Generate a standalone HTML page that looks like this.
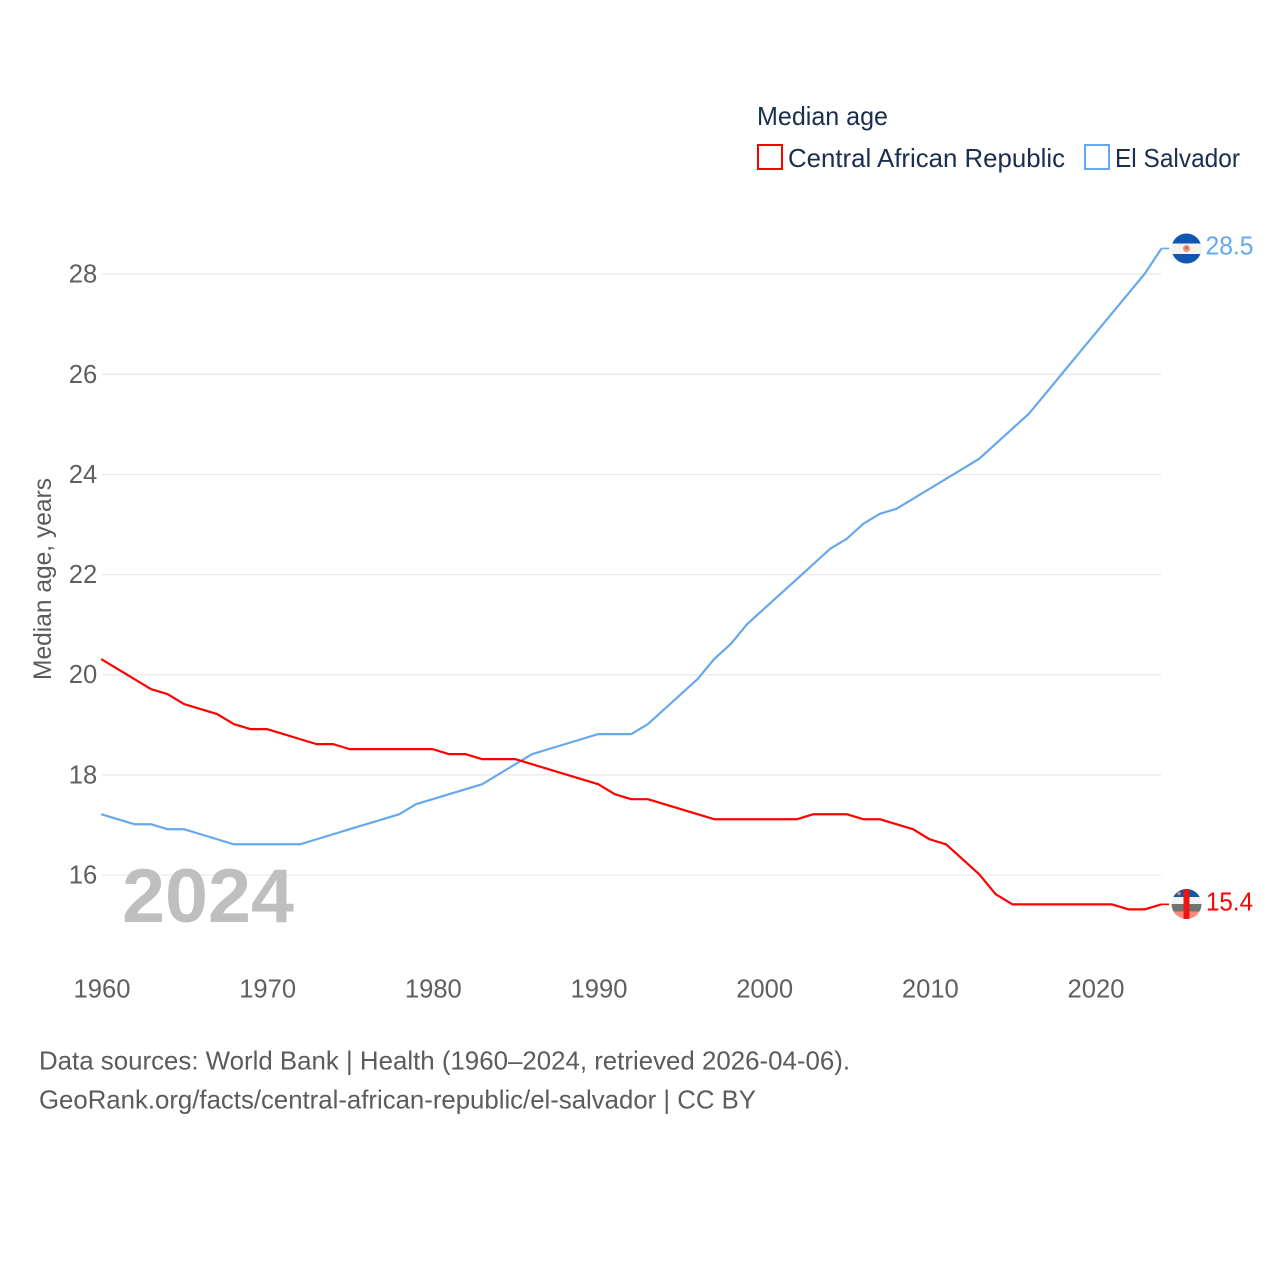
<!DOCTYPE html>
<html lang="en">
<head>
<meta charset="utf-8">
<title>Median age</title>
<style>
html,body{margin:0;padding:0;background:#fff;}
svg{display:block;font-family:"Liberation Sans",sans-serif;}
</style>
</head>
<body>
<svg id="chart" width="1280" height="1280" viewBox="0 0 1280 1280" xmlns="http://www.w3.org/2000/svg">
  <rect width="1280" height="1280" fill="#fff"/>
  <defs>
    <clipPath id="flag-clip-es"><circle cx="1186.5" cy="248.5" r="15"/></clipPath>
    <clipPath id="flag-clip-car"><circle cx="1186.5" cy="904" r="15"/></clipPath>
  </defs>

  <g id="grid"></g>
  <g id="yticks"></g>
  <g id="xticks"></g>

  <text transform="translate(51 680) rotate(-90)" font-size="25" fill="#5b5b5b" textLength="202" lengthAdjust="spacingAndGlyphs">Median age, years</text>

  <text x="122" y="922" font-size="76" font-weight="700" fill="#bfbfbf" textLength="172" lengthAdjust="spacingAndGlyphs">2024</text>

  <g id="series" transform="translate(-0.8 -0.7)"></g>

  <g>
    <text x="757" y="125" font-size="26" fill="#1a2e4f" textLength="131" lengthAdjust="spacingAndGlyphs">Median age</text>
    <g>
      <rect x="758" y="145" width="24" height="24" fill="#fff" stroke="#ff0000" stroke-width="2"/>
      <text x="788" y="167" font-size="26" fill="#1a2e4f" textLength="277" lengthAdjust="spacingAndGlyphs">Central African Republic</text>
    </g>
    <g>
      <rect x="1085" y="145" width="24" height="24" fill="#fff" stroke="#66a8ee" stroke-width="2"/>
      <text x="1115" y="167" font-size="26" fill="#1a2e4f" textLength="125" lengthAdjust="spacingAndGlyphs">El Salvador</text>
    </g>
  </g>

  <g clip-path="url(#flag-clip-es)">
    <rect x="1171" y="233" width="31" height="31" fill="#f2f2f2"/>
    <rect x="1171" y="233" width="31" height="10.5" fill="#0f56b0"/>
    <rect x="1171" y="254" width="31" height="10.5" fill="#0f56b0"/>
    <circle cx="1186.5" cy="248.5" r="3.5" fill="#f08f7f"/>
    <circle cx="1186.5" cy="248" r="1.2" fill="#8a6a60"/>
  </g>
  <text id="label-es" x="1205.5" y="254.5" font-size="26" fill="#66a8ee" textLength="48" lengthAdjust="spacingAndGlyphs"></text>

  <g clip-path="url(#flag-clip-car)">
    <rect x="1171" y="889" width="31" height="8" fill="#1257a8"/>
    <rect x="1171" y="897" width="31" height="7" fill="#f2f2f2"/>
    <rect x="1171" y="904" width="31" height="7.5" fill="#6f7470"/>
    <rect x="1171" y="911.5" width="31" height="8.5" fill="#ff8a7c"/>
    <circle cx="1179" cy="893.5" r="1.8" fill="#d98a60"/>
    <rect x="1183.5" y="889" width="6" height="31" fill="#f01414"/>
  </g>
  <text id="label-car" x="1206" y="910.5" font-size="26" fill="#ff0000" textLength="47" lengthAdjust="spacingAndGlyphs"></text>

  <g>
    <text x="39" y="1069.5" font-size="26" fill="#5b5b5b" textLength="811" lengthAdjust="spacingAndGlyphs">Data sources: World Bank | Health (1960–2024, retrieved 2026-04-06).</text>
    <text x="39" y="1108.5" font-size="26" fill="#5b5b5b" textLength="717" lengthAdjust="spacingAndGlyphs">GeoRank.org/facts/central-african-republic/el-salvador | CC BY</text>
  </g>
</svg>
<script>
const startYear = 1960;
const xTickYears = [1960, 1970, 1980, 1990, 2000, 2010, 2020];
const yTickValues = [16, 18, 20, 22, 24, 26, 28];
const carValues = [20.3,20.1,19.9,19.7,19.6,19.4,19.3,19.2,19.0,18.9,18.9,18.8,18.7,18.6,18.6,18.5,18.5,18.5,18.5,18.5,18.5,18.4,18.4,18.3,18.3,18.3,18.2,18.1,18.0,17.9,17.8,17.6,17.5,17.5,17.4,17.3,17.2,17.1,17.1,17.1,17.1,17.1,17.1,17.2,17.2,17.2,17.1,17.1,17.0,16.9,16.7,16.6,16.3,16.0,15.6,15.4,15.4,15.4,15.4,15.4,15.4,15.4,15.3,15.3,15.4];
const esValues = [17.2,17.1,17.0,17.0,16.9,16.9,16.8,16.7,16.6,16.6,16.6,16.6,16.6,16.7,16.8,16.9,17.0,17.1,17.2,17.4,17.5,17.6,17.7,17.8,18.0,18.2,18.4,18.5,18.6,18.7,18.8,18.8,18.8,19.0,19.3,19.6,19.9,20.3,20.6,21.0,21.3,21.6,21.9,22.2,22.5,22.7,23.0,23.2,23.3,23.5,23.7,23.9,24.1,24.3,24.6,24.9,25.2,25.6,26.0,26.4,26.8,27.2,27.6,28.0,28.5];

const SVG_NS = 'http://www.w3.org/2000/svg';
const xScale = function (year) { return 102 + (year - 1960) * (1096 - 102) / 60; };
const yScale = function (v) { return 875 - (v - 16) * (875 - 274.2) / 12; };

const grid = document.getElementById('grid');
const yTicks = document.getElementById('yticks');
const xTicks = document.getElementById('xticks');
const series = document.getElementById('series');

yTickValues.forEach(function (v) {
  const line = document.createElementNS(SVG_NS, 'line');
  
  
  line.setAttribute('x1', xScale(1960));
  line.setAttribute('x2', xScale(2024) - 1.2);
  line.setAttribute('y1', yScale(v));
  line.setAttribute('y2', yScale(v));
  line.setAttribute('stroke', '#e9e9e9');
  line.setAttribute('stroke-width', '1.3');
  grid.appendChild(line);

  const label = document.createElementNS(SVG_NS, 'text');
  
  
  label.setAttribute('x', 97.2);
  label.setAttribute('y', yScale(v) + 8.5);
  label.setAttribute('text-anchor', 'end');
  label.setAttribute('font-size', '25.6');
  label.setAttribute('fill', '#5f5f5f');
  label.textContent = v;
  yTicks.appendChild(label);
});

xTickYears.forEach(function (year) {
  const label = document.createElementNS(SVG_NS, 'text');
  
  
  label.setAttribute('x', xScale(year));
  label.setAttribute('y', 997.5);
  label.setAttribute('text-anchor', 'middle');
  label.setAttribute('font-size', '25.6');
  label.setAttribute('fill', '#5f5f5f');
  label.textContent = year;
  xTicks.appendChild(label);
});

function drawSeries(values, color, name) {
  const pts = values.map(function (v, i) {
    return xScale(startYear + i).toFixed(2) + ',' + yScale(v).toFixed(2);
  });
  const path = document.createElementNS(SVG_NS, 'polyline');
  
  
  path.setAttribute('points', pts.join(' '));
  path.setAttribute('fill', 'none');
  path.setAttribute('stroke', color);
  path.setAttribute('stroke-width', '2.2');
  path.setAttribute('stroke-linejoin', 'round');
  series.appendChild(path);

  const lastY = yScale(values[values.length - 1]);
  const connector = document.createElementNS(SVG_NS, 'line');
  
  
  connector.setAttribute('x1', xScale(2024));
  connector.setAttribute('x2', 1170);
  connector.setAttribute('y1', lastY);
  connector.setAttribute('y2', lastY);
  connector.setAttribute('stroke', color);
  connector.setAttribute('stroke-width', '1.6');
  series.appendChild(connector);
}

drawSeries(esValues, '#66a8ee', 'el-salvador');
drawSeries(carValues, '#ff0000', 'central-african-republic');

document.getElementById('label-es').textContent = esValues[esValues.length - 1].toFixed(1);
document.getElementById('label-car').textContent = carValues[carValues.length - 1].toFixed(1);
</script>
</body>
</html>
